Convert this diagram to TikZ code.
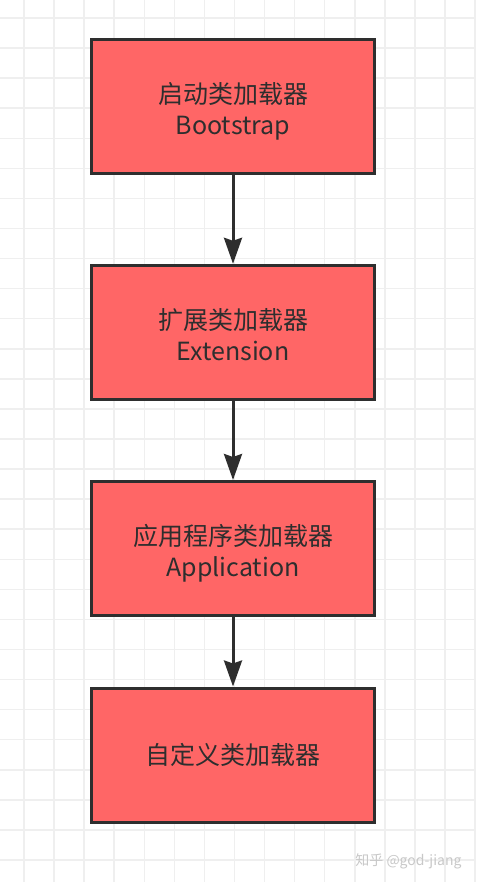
\documentclass[tikz,border=0pt]{standalone}
\usepackage{fontspec}
\setmainfont{Noto Sans CJK SC}
\usepackage{tikz}
\usetikzlibrary{arrows.meta}
\usetikzlibrary{positioning}
\definecolor{loaderred}{HTML}{FF6666}
\definecolor{edgegray}{HTML}{2E2E2E}
\definecolor{gridgray}{HTML}{EFEFEF}
\definecolor{markgray}{HTML}{C8C8C8}
\tikzset{
    loader/.style={
        draw=edgegray,
        fill=loaderred,
        line width=3pt,
        minimum width=283pt,
        minimum height=134pt,
        inner sep=0pt,
        align=center,
        text=edgegray,
        font=\fontsize{25pt}{31pt}\selectfont
    },
    twoline/.style={
        text height=56pt,
        text depth=0pt
    },
    every edge/.style={
        draw=edgegray,
        line width=3pt,
        -{Stealth[length=26pt, width=18pt, inset=3pt]}
    }
}

\begin{document}
\begin{tikzpicture}[x=1pt, y=-1pt]
\useasboundingbox (0,0) rectangle (476,882);
\fill[white] (0,0) rectangle (476,882);

% Define the background grid
\foreach \i in {0,...,15}
    \draw[gridgray, line width=1.5pt] ({24+30.07*\i},0) -- ({24+30.07*\i},882);
\foreach \j in {0,...,28}
    \draw[gridgray, line width=1.5pt] (0,{18+30.07*\j}) -- (476,{18+30.07*\j});

% Define the loaders from top to bottom
\node[loader, twoline] (boot) at (233,106.5) {启动类加载器\\Bootstrap};
\node[loader, twoline] (ext)  at (233,332.3) {扩展类加载器\\Extension};
\node[loader, twoline] (app)  at (233,548.5) {应用程序类加载器\\Application};
\node[loader] (user) at (233,755) {自定义类加载器};

% Define the edges
\path (boot) edge (ext);
\path (ext) edge (app);
\path (app) edge (user);

% Watermark
\node[text=markgray, font=\fontsize{14pt}{16pt}\selectfont, anchor=east] (mark) at (465,861) {知乎 @god-jiang};

\end{tikzpicture}
\end{document}
